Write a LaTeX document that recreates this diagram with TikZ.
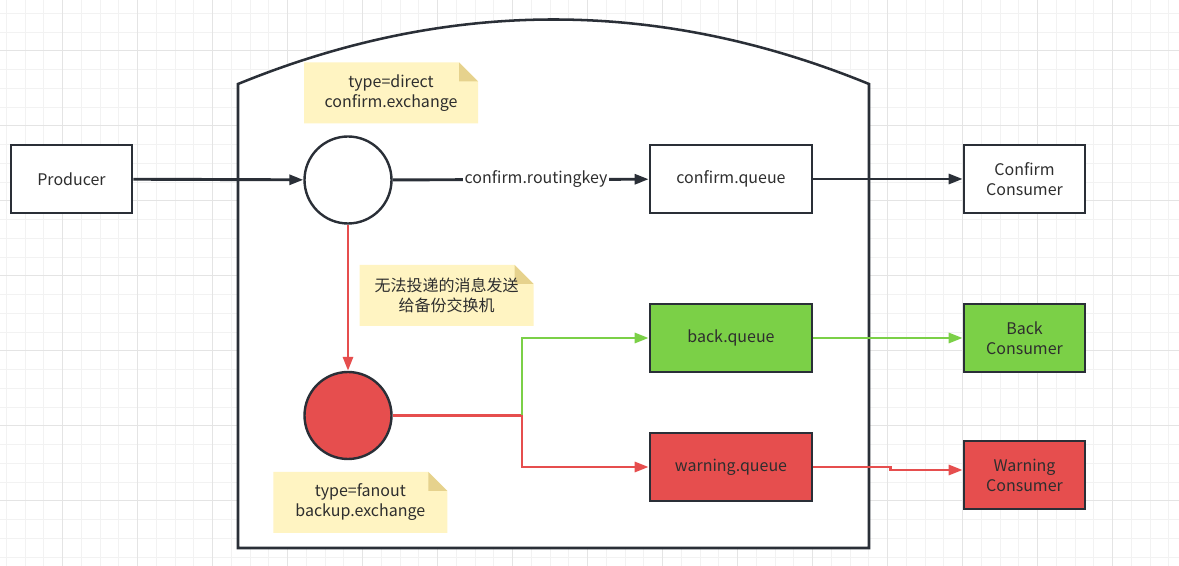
\documentclass[tikz,border=0pt]{standalone}
\usepackage{fontspec}
\setmainfont{Noto Sans CJK SC}
\usetikzlibrary{arrows.meta,calc}
\definecolor{MQInk}{HTML}{2A2F37}
\definecolor{MQText}{HTML}{2E2E2E}
\definecolor{MQGreen}{HTML}{7BD047}
\definecolor{MQRed}{HTML}{E64E4E}
\definecolor{MQNote}{HTML}{FFF4C2}
\definecolor{MQFold}{HTML}{E6D28D}
\definecolor{MQGridMinor}{HTML}{F2F2F2}
\definecolor{MQGridMajor}{HTML}{E4E4E4}
\tikzset{
  box/.style={draw=MQInk,line width=2pt,fill=white,minimum width=90.75pt,minimum height=51pt,align=center,inner sep=0pt},
  exch/.style={circle,draw=MQInk,line width=1.8pt,fill=white,minimum size=65.25pt,inner sep=0pt},
  flow/.style={draw=MQInk,line width=2.2pt,-{Triangle[length=10.5pt,width=7.5pt]}},
  note/.style={minimum width=130.5pt,minimum height=45.75pt,align=center,inner sep=0pt,
    path picture={
      \fill[MQNote] (path picture bounding box.south west) -- (path picture bounding box.north west)
        -- ($(path picture bounding box.north east)+(-14.25pt,0pt)$)
        -- ($(path picture bounding box.north east)+(0pt,-14.25pt)$)
        -- (path picture bounding box.south east) -- cycle;
      \fill[MQFold] ($(path picture bounding box.north east)+(-14.25pt,0pt)$)
        -- ($(path picture bounding box.north east)+(-14.25pt,-14.25pt)$)
        -- ($(path picture bounding box.north east)+(0pt,-14.25pt)$) -- cycle;
    }}
}
\begin{document}
\begin{tikzpicture}[x=0.75pt,y=-0.75pt,every node/.style={font=\fontsize{12}{15}\selectfont,text=MQText}]
\useasboundingbox (0,0) rectangle (1179,566);
\fill[white] (0,0) rectangle (1179,566);
\foreach \i in {0,...,62} \draw[MQGridMinor,line width=0.75pt] ({6.45+18.75*\i},0) -- ++(0,566);
\foreach \i in {0,...,29} \draw[MQGridMinor,line width=0.75pt] (0,{13.5+18.75*\i}) -- ++(1179,0);
\foreach \i in {0,...,14} \draw[MQGridMajor,line width=0.75pt] ({62.7+75*\i},0) -- ++(0,566);
\foreach \i in {0,...,6} \draw[MQGridMajor,line width=0.75pt] (0,{51+75*\i}) -- ++(1179,0);

\draw[MQInk,line width=1.9pt,fill=white] (238,548) -- (238,84) .. controls (448.3,-2) and (658.7,-2) .. (869,84) -- (869,548) -- cycle;

\node[box] (producer) at (71.5,179) {Producer};
\node[exch] (confirmex) at (348,180) {};
\node[box,minimum width=121.5pt] (confirmq) at (731,179) {confirm.queue};
\node[box] (confirmc) at (1024.5,179) {Confirm\\Consumer};
\node[exch,fill=MQRed] (backupex) at (348,415.5) {};
\node[box,minimum width=121.5pt,fill=MQGreen] (backq) at (731,338) {back.queue};
\node[box,fill=MQGreen] (backc) at (1024.5,338) {Back\\Consumer};
\node[box,minimum width=121.5pt,fill=MQRed] (warnq) at (731,467) {warning.queue};
\node[box,fill=MQRed] (warnc) at (1024.5,475) {Warning\\Consumer};
\node[note] (confirmnote) at (391,93) {type=direct\\confirm.exchange};
\node[note] (tipnote) at (446.5,295.5) {无法投递的消息发送\\给备份交换机};
\node[note] (backupnote) at (360.3,502.5) {type=fanout\\backup.exchange};
\coordinate (split) at (522,415.5);

\draw[flow] (producer) -- (confirmex);
\draw[flow] (confirmex) -- node[pos=0.56,fill=white,inner sep=1pt] {confirm.routingkey} (confirmq);
\draw[flow] (confirmq) -- (confirmc);
\draw[flow,MQRed] (confirmex) -- (backupex);
\draw[MQRed,line width=2.2pt] (backupex) -- (split);
\draw[flow,MQGreen] (split) |- (backq);
\draw[flow,MQRed] (split) |- (warnq);
\draw[flow,MQGreen] (backq) -- (backc);
\draw[flow,MQRed] (warnq.east) -- ++(77,0) |- ($(warnc.west)+(0,-5)$);
\end{tikzpicture}
\end{document}
